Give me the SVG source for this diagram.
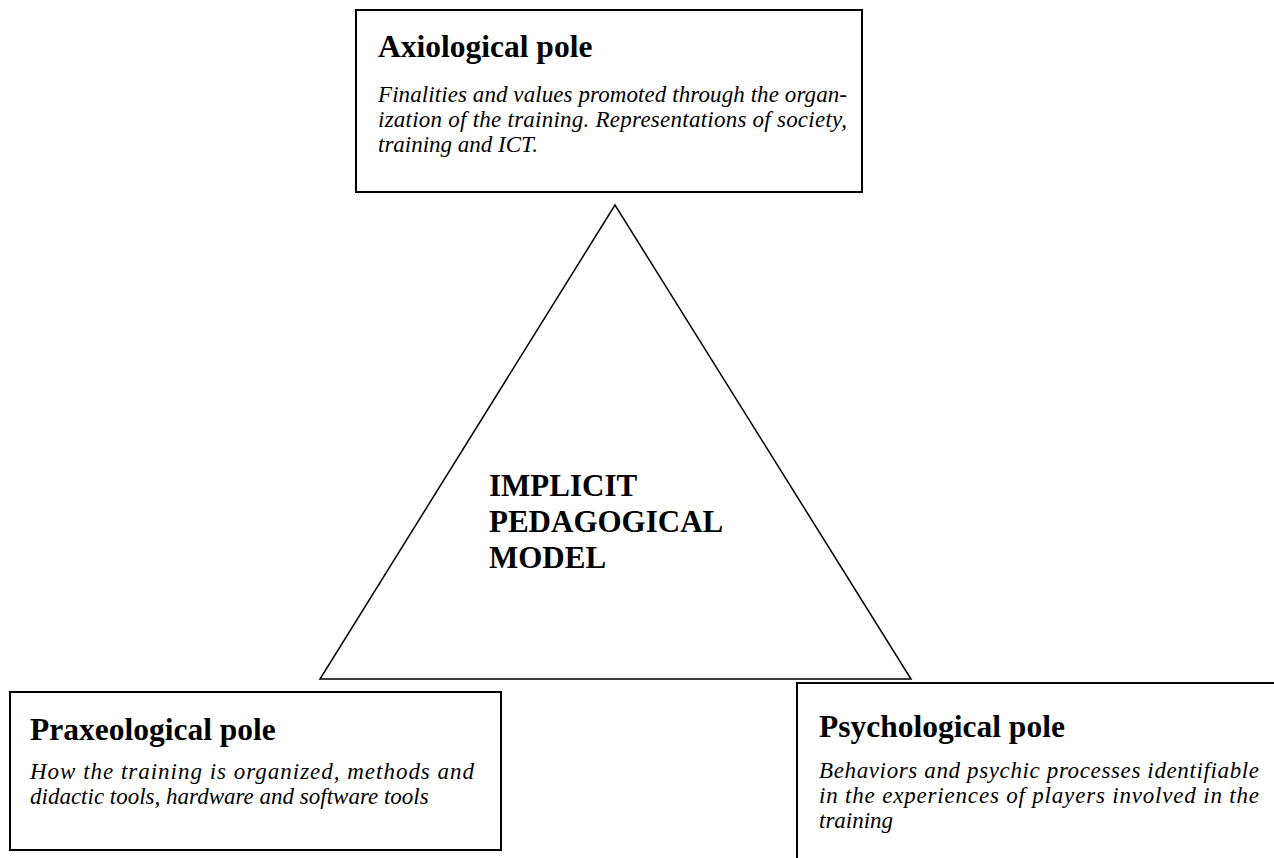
<svg xmlns="http://www.w3.org/2000/svg" width="1274" height="858" viewBox="0 0 1274 858">
  <style>
    .box { fill: #ffffff; stroke: #000000; stroke-width: 2; }
    .tri { fill: none; stroke: #000000; stroke-width: 1.5; stroke-linejoin: miter; }
    .title { font-family: "Liberation Serif", "Times New Roman", serif; font-weight: bold; font-size: 31.5px; fill: #000000; }
    .body { font-family: "Liberation Serif", "Times New Roman", serif; font-style: italic; font-size: 23px; fill: #000000; }
    .core { font-family: "Liberation Serif", "Times New Roman", serif; font-weight: bold; font-size: 31px; fill: #000000; }
  </style>

  <rect width="1274" height="858" fill="#ffffff"/>

  <!-- central triangle with the model label -->
  <g id="model">
    <polygon class="tri" points="615,205 320,679 911,679"/>
    <text class="core" x="489" y="496">IMPLICIT</text>
    <text class="core" x="489" y="532">PEDAGOGICAL</text>
    <text class="core" x="489" y="568">MODEL</text>
  </g>

  <!-- top pole -->
  <g id="axiological">
    <rect class="box" x="356" y="10" width="506" height="182"/>
    <text class="title" x="378" y="57">Axiological pole</text>
    <text class="body" x="378" y="102" textLength="469" lengthAdjust="spacing">Finalities and values promoted through the organ-</text>
    <text class="body" x="378" y="127" textLength="469" lengthAdjust="spacing">ization of the training. Representations of society,</text>
    <text class="body" x="378" y="152">training and ICT.</text>
  </g>

  <!-- bottom-left pole -->
  <g id="praxeological">
    <rect class="box" x="10" y="692" width="491" height="158"/>
    <text class="title" x="30" y="740">Praxeological pole</text>
    <text class="body" x="30" y="779" textLength="444" lengthAdjust="spacing">How the training is organized, methods and</text>
    <text class="body" x="30" y="804">didactic tools, hardware and software tools</text>
  </g>

  <!-- bottom-right pole, running past the right and bottom edges -->
  <g id="psychological">
    <path class="box" d="M797,859 L797,683 L1275,683"/>
    <text class="title" x="819" y="737">Psychological pole</text>
    <text class="body" x="819" y="778" textLength="440" lengthAdjust="spacing">Behaviors and psychic processes identifiable</text>
    <text class="body" x="819" y="803" textLength="440" lengthAdjust="spacing">in the experiences of players involved in the</text>
    <text class="body" x="819" y="828">training</text>
  </g>

  <g id="connectors"></g>
</svg>
